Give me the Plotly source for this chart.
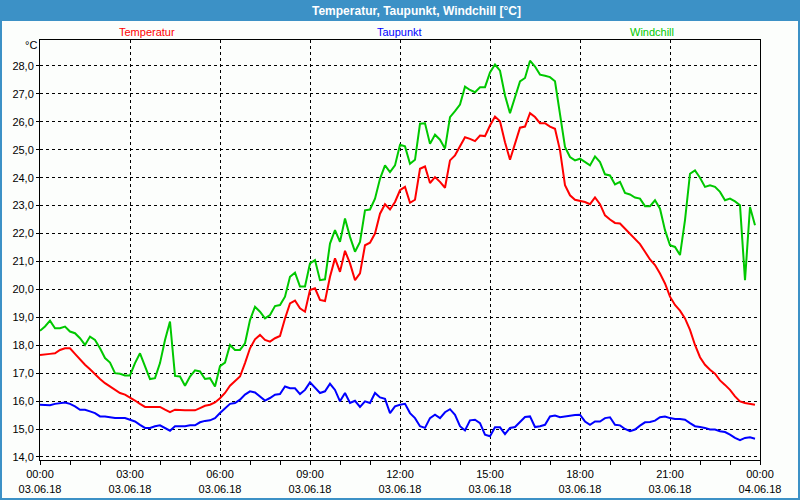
import pandas as pd
import plotly.graph_objects as go

times = pd.date_range("2018-06-03 00:00", periods=144, freq="10min")

temperatur = [
    17.65, 17.68, 17.69, 17.71, 17.83, 17.89, 17.89, 17.69, 17.48, 17.30,
    17.14, 16.96, 16.79, 16.64, 16.52, 16.38, 16.29, 16.23, 16.14, 16.02,
    15.90, 15.79, 15.79, 15.79, 15.79, 15.69, 15.60, 15.69, 15.67, 15.67,
    15.67, 15.67, 15.75, 15.83, 15.87, 15.95, 16.10,
    16.29, 16.55, 16.70, 16.88, 17.36, 17.89, 18.21, 18.37, 18.19, 18.13,
    18.25, 18.33, 18.96, 19.50, 19.60, 19.32, 19.20, 19.98, 20.04, 19.62,
    19.58, 20.45, 21.11, 20.63, 21.38, 20.93, 20.33, 20.57, 21.58, 21.67,
    22.00, 22.71, 23.05, 22.86, 23.13, 23.55,
    23.67, 23.10, 23.21, 24.32, 24.40, 23.81, 24.02, 23.85, 23.64, 24.62,
    24.80, 25.12, 25.45, 25.39, 25.31, 25.51, 25.49, 25.87, 26.19, 26.02,
    25.27, 24.64, 25.21, 25.79, 25.83, 26.31, 26.17, 25.95, 25.95, 25.83,
    25.75, 24.98, 23.73, 23.37, 23.21, 23.18,
    23.13, 23.05, 23.29, 23.05, 22.65, 22.50, 22.38, 22.36, 22.18, 22.00,
    21.82, 21.62, 21.35, 21.07, 20.87, 20.57, 20.21, 19.74, 19.44, 19.24,
    18.96, 18.55, 18.01, 17.57, 17.30, 17.12, 16.98, 16.74, 16.58, 16.40,
    16.17, 15.99, 15.93, 15.90, 15.87,
]

taupunkt = [
    15.87, 15.85, 15.85, 15.90, 15.93, 15.95, 15.90, 15.81, 15.69, 15.69,
    15.63, 15.57, 15.45, 15.45, 15.42, 15.39, 15.39, 15.39, 15.33, 15.27,
    15.15, 15.04, 15.04, 15.10, 15.13, 15.04, 14.94, 15.10, 15.10, 15.10,
    15.13, 15.13, 15.24, 15.29, 15.31, 15.39, 15.57,
    15.75, 15.90, 15.93, 16.05, 16.23, 16.35, 16.31, 16.17, 16.02, 16.11,
    16.23, 16.25, 16.52, 16.46, 16.46, 16.25, 16.40, 16.67, 16.46, 16.29,
    16.35, 16.62, 16.40, 15.99, 16.29, 15.93, 16.01, 15.79, 15.99, 15.93,
    16.29, 16.13, 16.08, 15.57, 15.81, 15.87,
    15.90, 15.57, 15.39, 15.10, 15.04, 15.39, 15.51, 15.39, 15.60, 15.71,
    15.51, 15.10, 14.95, 15.31, 15.33, 15.21, 14.80, 14.74, 15.06, 15.06,
    14.82, 15.04, 15.07, 15.27, 15.43, 15.45, 15.07, 15.10, 15.15, 15.45,
    15.48, 15.42, 15.45, 15.48, 15.50, 15.51,
    15.27, 15.15, 15.27, 15.27, 15.39, 15.42, 15.15, 15.13, 15.00, 14.92,
    14.98, 15.12, 15.24, 15.25, 15.30, 15.42, 15.45, 15.39, 15.36, 15.36,
    15.33, 15.21, 15.10, 15.07, 15.04, 14.98, 14.98, 14.92, 14.89, 14.80,
    14.68, 14.60, 14.68, 14.70, 14.65,
]

windchill = [
    18.52, 18.67, 18.88, 18.61, 18.61, 18.67, 18.49, 18.43, 18.25, 18.01,
    18.31, 18.19, 17.89, 17.54, 17.38, 17.00, 16.98, 16.92, 16.92, 17.36,
    17.71, 17.26, 16.79, 16.82, 17.36, 18.19, 18.85, 16.90, 16.88, 16.55,
    16.88, 17.10, 17.06, 16.79, 16.82, 16.52, 17.25,
    17.38, 18.01, 17.83, 17.83, 18.07, 18.90, 19.38, 19.20, 18.96, 19.08,
    19.40, 19.44, 19.74, 20.45, 20.60, 20.10, 20.10, 20.93, 21.05, 20.33,
    20.36, 21.64, 22.12, 21.70, 22.54, 21.88, 21.35, 21.70, 22.83, 22.86,
    23.25, 23.96, 24.44, 24.20, 24.44, 25.18,
    25.12, 24.50, 24.64, 25.93, 25.95, 25.21, 25.54, 25.36, 25.04, 26.17,
    26.38, 26.62, 27.26, 27.14, 27.06, 27.24, 27.24, 27.77, 28.05, 27.83,
    26.94, 26.31, 26.88, 27.45, 27.57, 28.19, 27.98, 27.69, 27.65, 27.60,
    27.45, 26.29, 25.10, 24.74, 24.62, 24.68,
    24.56, 24.44, 24.76, 24.56, 24.12, 24.08, 23.76, 23.85, 23.45, 23.40,
    23.29, 23.25, 22.98, 22.98, 23.19, 22.89, 22.12, 21.58, 21.52, 21.23,
    22.48, 24.14, 24.26, 24.00, 23.67, 23.73, 23.67, 23.49, 23.19, 23.25,
    23.15, 23.01, 20.33, 22.95, 22.30,
]

x_tick_times = pd.date_range("2018-06-03 00:00", periods=9, freq="3h")
x_tick_labels = [
    "00:00<br>03.06.18", "03:00<br>03.06.18", "06:00<br>03.06.18",
    "09:00<br>03.06.18", "12:00<br>03.06.18", "15:00<br>03.06.18",
    "18:00<br>03.06.18", "21:00<br>03.06.18", "00:00<br>04.06.18",
]
y_tick_values = list(range(14, 29))
y_tick_labels = [f"{v},0" for v in y_tick_values]

series_names = ["Temperatur", "Taupunkt", "Windchill"]
series_colors = ["#ff0000", "#0000ff", "#00c800"]
series_data = [temperatur, taupunkt, windchill]

BG = "#fcfefc"
FRAME = "#3c91c6"
FONT = "Liberation Sans"

fig = go.Figure()
for name, color, vals in zip(series_names, series_colors, series_data):
    fig.add_trace(go.Scatter(x=times, y=vals, mode="lines", name=name,
                             line=dict(color=color, width=2), hoverinfo="skip"))

# plot area in pixels: x 40..760, y 40..460
PW, PH = 720, 420
def px(xp):
    return (xp - 40) / PW
def py(yp):
    return (460 - yp) / PH

fig.update_layout(
    width=800, height=500,
    margin=dict(l=40, r=40, t=40, b=40, pad=0, autoexpand=False),
    paper_bgcolor=BG, plot_bgcolor=BG,
    showlegend=False,
    font=dict(family=FONT, size=11, color="#000000"),
    xaxis=dict(
        type="date", automargin=False,
        range=["2018-06-03 00:00", "2018-06-04 00:00"],
        tickmode="array", tickvals=x_tick_times, ticktext=x_tick_labels,
        ticks="outside", ticklen=4, tickcolor="#000000", tickwidth=1,
        showline=True, linecolor="#000000", linewidth=1, mirror=True,
        showgrid=True, gridcolor="#000000", gridwidth=1, griddash="3px,3px",
        zeroline=False,
        minor=dict(tickmode="linear", tick0="2018-06-03 00:00", dtick=3600000,
                   ticks="outside", ticklen=4, tickcolor="#000000", showgrid=False),
        tickfont=dict(family=FONT, size=11, color="#000000"),
        fixedrange=True,
    ),
    yaxis=dict(
        automargin=False,
        range=[13.89, 28.93],
        tickmode="array", tickvals=y_tick_values, ticktext=y_tick_labels,
        ticks="outside", ticklen=3, tickcolor="#000000",
        showline=True, linecolor="#000000", linewidth=1, mirror=True,
        showgrid=True, gridcolor="#000000", gridwidth=1, griddash="3px,3px",
        zeroline=False,
        tickfont=dict(family=FONT, size=11, color="#000000"),
        fixedrange=True,
    ),
    shapes=[
        dict(type="rect", xref="paper", yref="paper",
             x0=px(0), x1=px(800), y0=py(21), y1=py(0),
             fillcolor=FRAME, line=dict(width=0), layer="above"),
        dict(type="rect", xref="paper", yref="paper",
             x0=px(1), x1=px(799), y0=py(499), y1=py(1),
             fillcolor="rgba(0,0,0,0)", line=dict(color=FRAME, width=2), layer="above"),
    ],
    annotations=[
        dict(text="<b>Temperatur, Taupunkt, Windchill [°C]</b>", xref="paper", yref="paper",
             x=px(416), y=py(10.5), xanchor="center", yanchor="middle", showarrow=False,
             font=dict(family=FONT, size=12, color="#ffffff")),
        dict(text="°C", xref="paper", yref="paper", x=px(31), y=py(45),
             xanchor="center", yanchor="middle", showarrow=False,
             font=dict(family=FONT, size=11, color="#000000")),
    ] + [
        dict(text=name, xref="paper", yref="paper", x=px(cx), y=py(32),
             xanchor="center", yanchor="middle", showarrow=False,
             font=dict(family=FONT, size=11, color=color))
        for name, color, cx in zip(series_names, series_colors, [147, 399, 652])
    ],
)

fig.write_html(
    "out.html",
    config={"displayModeBar": False},
    post_script="document.body.style.margin='0';document.body.style.overflow='hidden';",
)
